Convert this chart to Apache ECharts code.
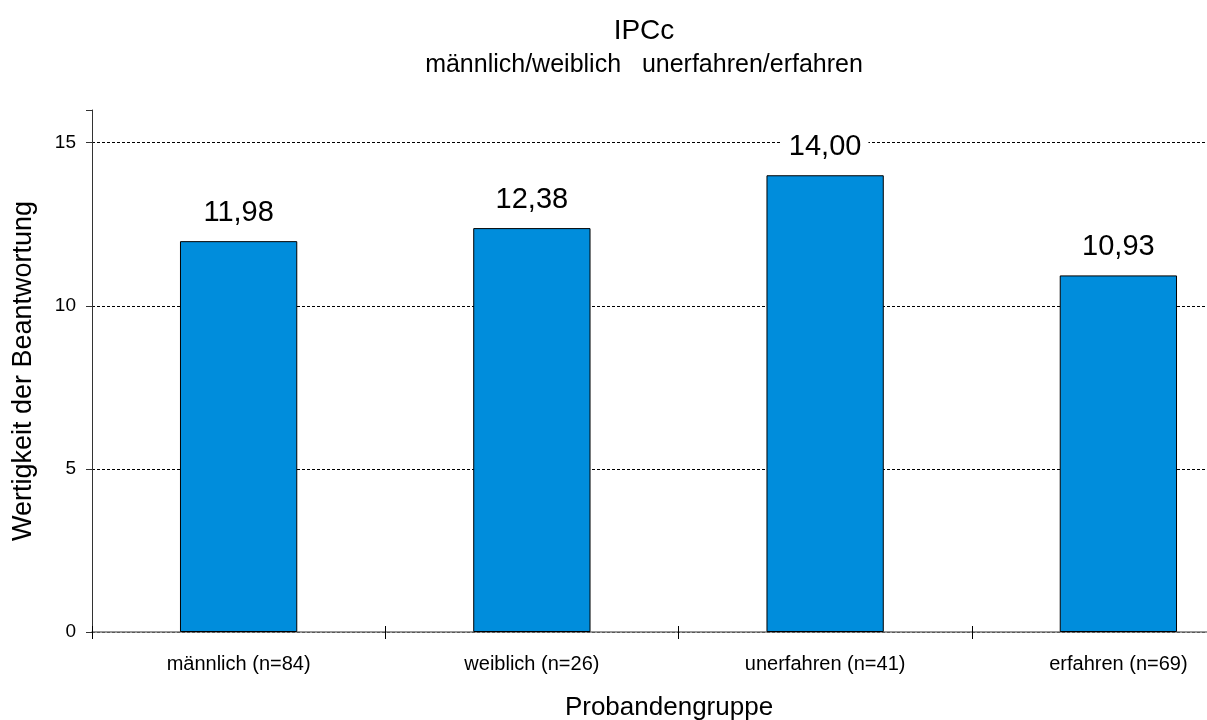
<!DOCTYPE html>
<html>
<head>
<meta charset="utf-8">
<script src="https://cdn.jsdelivr.net/npm/echarts@6/dist/echarts.min.js"></script>
<style>
  html, body { margin: 0; padding: 0; background: #fff; overflow: hidden; }
  #chart { width: 1278px; height: 720px; }
</style>
</head>
<body>
<div id="chart"></div>
<script>
// Probandengruppen und mittlere Wertigkeit
const categories = ['männlich (n=84)', 'weiblich (n=26)', 'unerfahren (n=41)', 'erfahren (n=69)'];
const values = [11.98, 12.38, 14.00, 10.93];
const yTicks = [0, 5, 10, 15];

const FONT = '"Liberation Sans", Arial, sans-serif';
const chart = echarts.init(document.getElementById('chart'), null, { renderer: 'canvas' });

// ticks 0,5,10,15 plus the axis end at 16: hide the split line at the end
const gridColors = ['#000', '#000', '#000', '#000', 'rgba(0,0,0,0)'];

chart.setOption({
  backgroundColor: '#fff',
  animation: false,
  textStyle: { fontFamily: FONT },
  title: [
    {
      text: 'IPCc',
      left: 639, top: 12, textAlign: 'center',
      textStyle: { fontFamily: FONT, fontSize: 28, fontWeight: 'normal', color: '#000' }
    },
    {
      text: 'männlich/weiblich   unerfahren/erfahren',
      left: 639, top: 48, textAlign: 'center',
      textStyle: { fontFamily: FONT, fontSize: 25, fontWeight: 'normal', color: '#000' }
    },
    {
      text: 'Probandengruppe',
      left: 664, top: 690, textAlign: 'center',
      textStyle: { fontFamily: FONT, fontSize: 26, fontWeight: 'normal', color: '#000' }
    }
  ],
  grid: { left: 92, right: 13, top: 110, bottom: 88, containLabel: false },
  xAxis: [
    {
      type: 'category',
      data: categories,
      axisLine: { lineStyle: { color: '#777', width: 1.5 } },
      axisTick: { show: true, length: 7, lineStyle: { color: '#000' } },
      axisLabel: { fontFamily: FONT, fontSize: 20, color: '#000', margin: 22 }
    },
    {
      // upward half of the crossing category ticks
      type: 'category',
      data: categories,
      position: 'bottom',
      axisLine: { show: false },
      axisTick: { show: true, inside: true, length: 6, lineStyle: { color: '#000' } },
      axisLabel: { show: false }
    }
  ],
  yAxis: {
    type: 'value',
    min: 0, max: 16, interval: 5,
    name: 'Wertigkeit der Beantwortung',
    nameLocation: 'middle', nameGap: 55,
    nameTextStyle: { fontFamily: FONT, fontSize: 27, color: '#000' },
    axisLine: { show: true, lineStyle: { color: '#333', width: 1 } },
    axisTick: { show: true, length: 6, lineStyle: { color: '#333' } },
    axisLabel: {
      fontFamily: FONT, fontSize: 19, color: '#000', margin: 16,
      formatter: v => yTicks.includes(v) ? String(v) : ''
    },
    splitLine: { show: true, lineStyle: { color: gridColors, type: [3, 2], width: 1 } }
  },
  series: [{
    type: 'bar',
    data: values,
    barWidth: '40%',
    itemStyle: { color: '#008ddc', borderColor: '#000', borderWidth: 1 },
    label: {
      show: true, position: 'top', distance: 14,
      fontFamily: FONT, fontSize: 29, color: '#000',
      backgroundColor: '#fff', padding: [0, 7],
      formatter: p => p.value.toFixed(2).replace('.', ',')
    }
  }]
});
</script>
</body>
</html>
